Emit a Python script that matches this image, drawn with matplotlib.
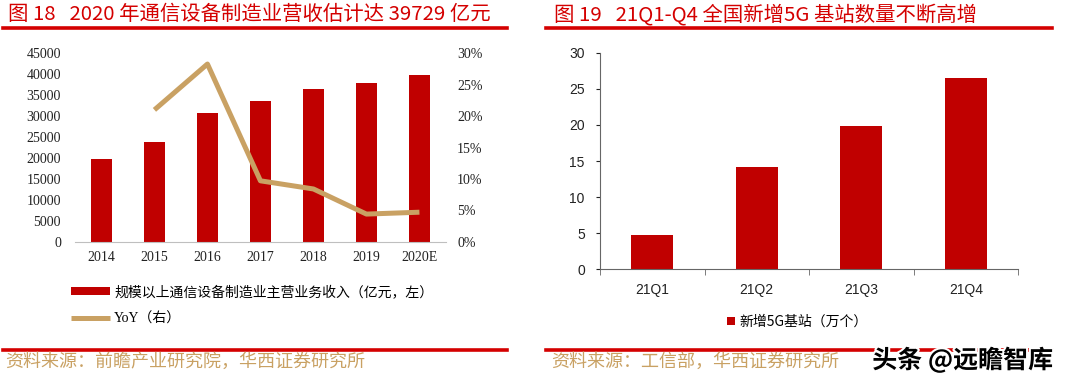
import matplotlib
matplotlib.use('Agg')
import matplotlib.pyplot as plt
import matplotlib.patheffects as pe
from matplotlib.lines import Line2D
from matplotlib.ticker import FuncFormatter
import numpy as np

# data
years = ["2014", "2015", "2016", "2017", "2018", "2019", "2020E"]
revenue = [19800, 23900, 30700, 33600, 36500, 38000, 39729]
yoy = [np.nan, 21.0, 28.3, 9.7, 8.4, 4.4, 4.7]
quarters = ["21Q1", "21Q2", "21Q3", "21Q4"]
new_5g = [4.8, 14.2, 19.8, 26.5]

RED = "#C00000"
TAN = "#C9A163"
TITLE_RED = "#D40000"
CJK = ["Noto Sans CJK SC", "DejaVu Sans"]
SERIF = ["Liberation Serif", "Noto Sans CJK SC"]
SANS = ["Liberation Sans", "Noto Sans CJK SC"]

fig = plt.figure(figsize=(10.8, 3.86), dpi=100)

# ---------- left chart ----------
ax1 = fig.add_axes([0.0694, 0.3738, 0.3435, 0.488])
x1 = np.arange(len(years))
bars = ax1.bar(x1, revenue, width=0.4, color=RED)
ax1.set_xlim(-0.5, len(years) - 0.5)
ax1.set_ylim(0, 45000)
ax1.set_yticks(np.arange(0, 45001, 5000))
ax1.set_xticks(x1)
ax1.set_xticklabels(years)
for s in ["top", "right", "left"]:
    ax1.spines[s].set_visible(False)
ax1.spines["bottom"].set_color("#BFBFBF")
ax1.tick_params(length=0, labelsize=10, colors="#222222")
ax1.tick_params(axis="x", pad=7)
ax1.tick_params(axis="y", pad=10)
for lab in ax1.get_xticklabels() + ax1.get_yticklabels():
    lab.set_family(SERIF)

ax2 = ax1.twinx()
line, = ax2.plot(x1, yoy, color=TAN, lw=3.6, solid_capstyle="butt")
ax2.set_ylim(0, 30)
ax2.set_yticks(np.arange(0, 31, 5))
ax2.yaxis.set_major_formatter(FuncFormatter(lambda v, p: f"{v:.0f}%"))
for s in ax2.spines.values():
    s.set_visible(False)
ax2.tick_params(length=0, labelsize=10, colors="#222222", pad=8)
for lab in ax2.get_yticklabels():
    lab.set_family(SERIF)

fig.legend([bars, line], ["规模以上通信设备制造业主营业务收入（亿元，左）", "YoY（右）"],
           loc="upper left", bbox_to_anchor=(0.066, 0.262), frameon=False,
           borderpad=0, borderaxespad=0, handlelength=2.8, handleheight=0.5,
           handletextpad=0.3, labelspacing=0.95,
           prop={"family": SERIF, "size": 10})

# ---------- right chart ----------
ax3 = fig.add_axes([0.5556, 0.3023, 0.387, 0.561])
x3 = np.arange(len(quarters))
bars2 = ax3.bar(x3, new_5g, width=0.4, color=RED)
ax3.set_xlim(-0.5, len(quarters) - 0.5)
ax3.set_ylim(0, 30)
ax3.set_yticks(np.arange(0, 31, 5))
ax3.set_xticks(x3)
ax3.set_xticklabels(quarters)
ax3.set_xticks(np.arange(-0.5, len(quarters), 1), minor=True)
for s in ["top", "right"]:
    ax3.spines[s].set_visible(False)
for s in ["left", "bottom"]:
    ax3.spines[s].set_color("#666666")
ax3.tick_params(axis="x", which="major", length=0, pad=10)
ax3.tick_params(axis="x", which="minor", length=4, color="#666666")
ax3.tick_params(axis="y", length=3, color="#666666", pad=8)
ax3.tick_params(labelsize=10, colors="#222222")
for lab in ax3.get_xticklabels() + ax3.get_yticklabels():
    lab.set_family(SANS)

fig.legend([bars2], ["新增5G基站（万个）"], loc="center",
           bbox_to_anchor=(0.738, 0.166), frameon=False, borderpad=0,
           handlelength=0.6, handleheight=0.6, handletextpad=0.3,
           prop={"family": CJK, "size": 10})

# ---------- titles, rules, sources ----------
fig.text(0.007, 0.962, "图 18   2020 年通信设备制造业营收估计达 39729 亿元",
         color=TITLE_RED, fontsize=14.7, family=CJK, va="center")
fig.text(0.513, 0.962, "图 19   21Q1-Q4 全国新增5G 基站数量不断高增",
         color=TITLE_RED, fontsize=14.7, family=CJK, va="center")

for xa, xb in [(0.003, 0.469), (0.506, 0.974)]:
    fig.add_artist(Line2D([xa, xb], [0.927, 0.927], color=TITLE_RED, lw=2.6,
                          transform=fig.transFigure))
    fig.add_artist(Line2D([xa, xb], [0.092, 0.092], color=TITLE_RED, lw=2.6,
                          transform=fig.transFigure))

fig.text(0.005, 0.062, "资料来源：前瞻产业研究院，华西证券研究所",
         color=TAN, fontsize=13, family=CJK, va="center")
fig.text(0.510, 0.062, "资料来源：工信部，华西证券研究所",
         color=TAN, fontsize=13, family=CJK, va="center")
fig.text(0.975, 0.068, "头条 @远瞻智库", color="black", fontsize=18,
         weight="bold", family=CJK, ha="right", va="center",
         path_effects=[pe.withStroke(linewidth=3, foreground="white")])

fig.savefig("out.png", dpi=100, facecolor="white")
